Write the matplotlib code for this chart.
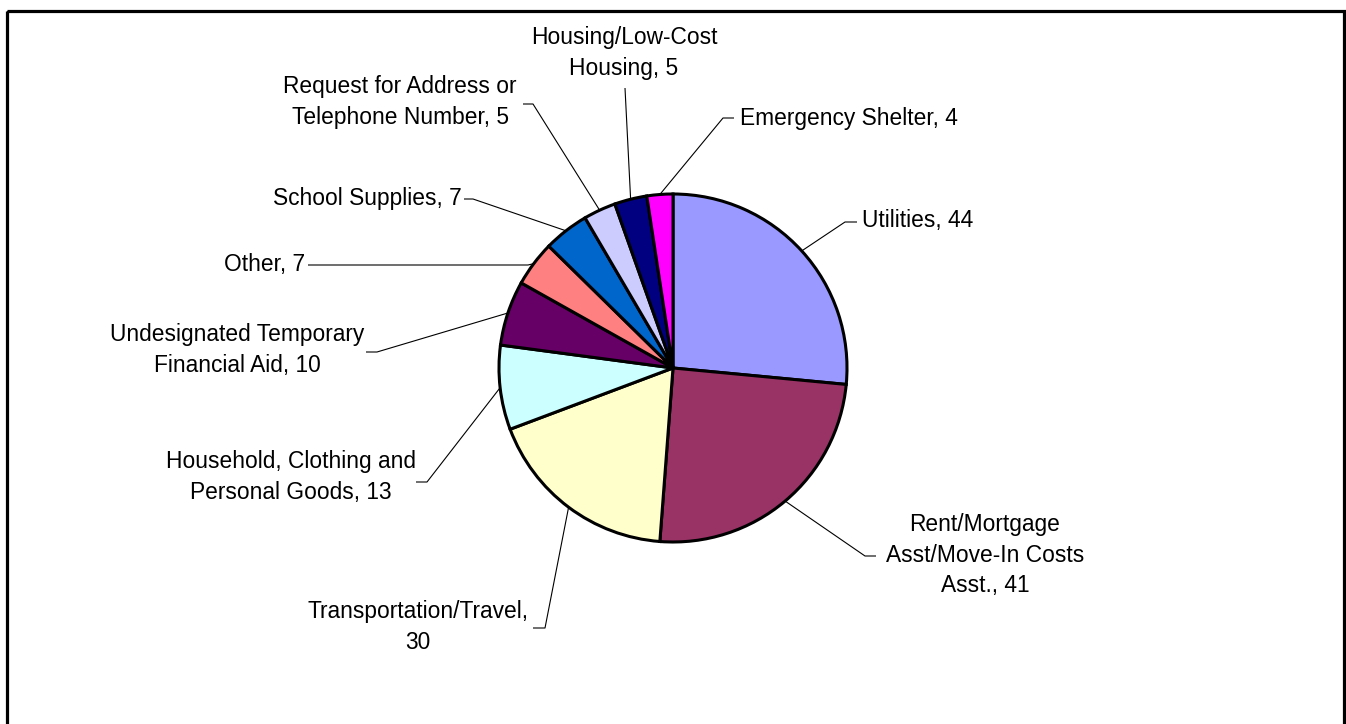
import numpy as np
import matplotlib
matplotlib.use("Agg")
import matplotlib.pyplot as plt
from matplotlib.patches import Rectangle

# ---- data ----
categories = ["Utilities", "Rent/Mortgage\nAsst/Move-In Costs\nAsst.", "Transportation/Travel",
              "Household, Clothing and\nPersonal Goods", "Undesignated Temporary\nFinancial Aid",
              "Other", "School Supplies", "Request for Address or\nTelephone Number",
              "Housing/Low-Cost\nHousing", "Emergency Shelter"]
values = [44, 41, 30, 13, 10, 7, 7, 5, 5, 4]
label_text = ["Utilities, 44", "Rent/Mortgage\nAsst/Move-In Costs\nAsst., 41",
              "Transportation/Travel,\n30", "Household, Clothing and\nPersonal Goods, 13",
              "Undesignated Temporary\nFinancial Aid, 10", "Other, 7", "School Supplies, 7",
              "Request for Address or\nTelephone Number, 5", "Housing/Low-Cost\nHousing, 5",
              "Emergency Shelter, 4"]
colors = ["#9999FF", "#993366", "#FFFFCC", "#CCFFFF", "#660066",
          "#FF8080", "#0066CC", "#CCCCFF", "#000080", "#FF00FF"]

# ---- layout (pixels, top-left origin) ----
W, H = 1346, 724
cx, cy, R = 673, 368, 174
text_pos = [(862, 221, "left"), (985, 555, "center"), (418, 627, "center"),
            (291, 477, "center"), (237, 350, "center"), (305, 265, "right"),
            (462, 198, "right"), (400, 102, "center"), (624, 53, "center"),
            (740, 118, "left")]
leader_pts = [[(845, 222), (857, 222)], [(865, 556), (876, 556)], [(545, 628), (533, 628)],
              [(427, 482), (416, 482)], [(377, 352), (366, 352)], [(528, 265), (308, 265)],
              [(473, 199), (464, 199)], [(533, 104), (523, 104)], [(625, 88)],
              [(723, 118), (734, 118)]]

plt.rcParams['font.family'] = ['Liberation Sans', 'DejaVu Sans']
fig = plt.figure(figsize=(W / 100, H / 100), dpi=100)
fig.patch.set_facecolor("white")

pad = 1.05
ax = fig.add_axes([(cx - R * pad) / W, (H - cy - R * pad) / H, 2 * R * pad / W, 2 * R * pad / H])
wedges, _ = ax.pie(values, colors=colors, startangle=90, counterclock=False,
                   wedgeprops=dict(edgecolor="black", linewidth=2.2))
ax.set_xlim(-pad, pad)
ax.set_ylim(-pad, pad)
ax.axis("off")

ov = fig.add_axes([0, 0, 1, 1])
ov.set_xlim(0, W)
ov.set_ylim(H, 0)
ov.axis("off")
ov.patch.set_alpha(0)

for w, txt, (tx, ty, ha), pts in zip(wedges, label_text, text_pos, leader_pts):
    mid = np.deg2rad((w.theta1 + w.theta2) / 2)
    px, py = cx + R * np.cos(mid), cy - R * np.sin(mid)
    xs = [px] + [p[0] for p in pts]
    ys = [py] + [p[1] for p in pts]
    ov.plot(xs, ys, color="black", lw=0.8, solid_capstyle="butt")
    ov.text(tx, ty, txt, ha=ha, va="center", fontsize=16.4, linespacing=1.44,
            multialignment="center", color="black")

ov.add_patch(Rectangle((6.5, 10.5), 1337, 730, fill=False, edgecolor="black",
                       linewidth=2.3, clip_on=False))

fig.savefig("out.png", dpi=100, facecolor="white")
